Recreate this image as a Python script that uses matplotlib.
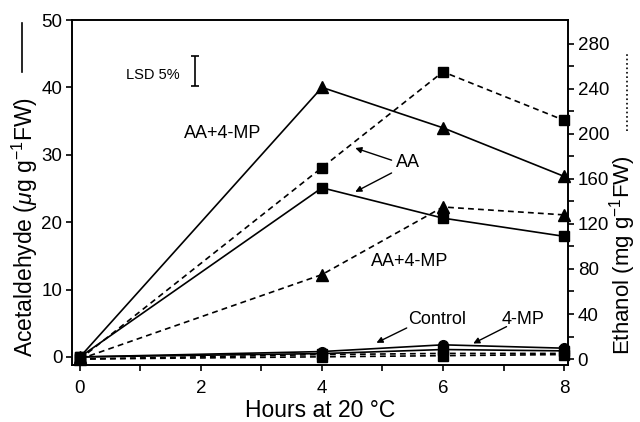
import numpy as np
import matplotlib
matplotlib.use('Agg')
import matplotlib.pyplot as plt
from matplotlib.lines import Line2D

plt.rcParams['font.family'] = ['Liberation Sans', 'DejaVu Sans']
plt.rcParams['mathtext.fontset'] = 'custom'
plt.rcParams['mathtext.rm'] = 'Liberation Sans'
plt.rcParams['mathtext.it'] = 'Liberation Sans:italic'

#------------------------------------------------------------------------------
hours = [0, 4, 6, 8]
# acetaldehyde (ug g-1 FW), solid lines, left axis
acet_aa_4mp = [0, 40.0, 34.0, 26.8]
acet_aa = [0, 25.1, 20.6, 17.9]
acet_control = [0, 0.8, 1.8, 1.3]
acet_4mp = [0, 0.5, 1.1, 0.9]
# ethanol (mg g-1 FW), dashed lines, right axis
eth_aa = [0, 170, 255, 212]
eth_aa_4mp = [0, 75, 135, 128]
eth_control = [0, 4, 5, 5]
eth_4mp = [0, 2, 3, 4]
lsd_x = 1.9
lsd_y = [40.2, 44.6]
#------------------------------------------------------------------------------

fig = plt.figure(figsize=(6.4, 4.22), dpi=100)
ax = fig.add_axes([0.1125, 0.135, 0.775, 0.8176])
ax2 = ax.twinx()

dash = (0, (3.5, 2.5))
kw = dict(c='k', lw=1.2, clip_on=False)
ax.plot(hours, acet_aa_4mp, '-^', ms=9, **kw)
ax.plot(hours, acet_aa, '-s', ms=7, **kw)
ax.plot(hours, acet_control, '-o', ms=7, **kw)
ax.plot(hours, acet_4mp, '-s', ms=7, **kw)
ax2.plot(hours, eth_aa, 's', ls=dash, ms=7, **kw)
ax2.plot(hours, eth_aa_4mp, '^', ls=dash, ms=9, **kw)
ax2.plot(hours, eth_control, 'o', ls=dash, ms=7, **kw)
ax2.plot(hours, eth_4mp, 's', ls=dash, ms=7, **kw)

ax.set_xlim(-0.132, 8.066)
ax.set_ylim(-1.2, 50)
ax2.set_ylim(-5.3, 301)
ax.set_xticks([0, 2, 4, 6, 8])
ax.set_xticks([1, 3, 5, 7], minor=True)
ax.set_yticks([0, 10, 20, 30, 40, 50])
ax2.set_yticks([0, 40, 80, 120, 160, 200, 240, 280])
ax2.set_yticks([20, 60, 100, 140, 180, 220, 260], minor=True)
for a in (ax, ax2):
    a.tick_params(labelsize=13.5, width=1.2, length=4, pad=3)
    a.tick_params(which='minor', width=1.2, length=4)
    for s in a.spines.values():
        s.set_linewidth(1.2)
ax.tick_params(axis='x', pad=7)
ax.set_xlabel('Hours at 20 \u00b0C', fontsize=16.5, labelpad=1)

# axis labels with line-style keys
fig.text(0.039, 0.462, 'Acetaldehyde ($\\mu$g g$^{-1}$FW)', rotation=90,
         fontsize=16.5, ha='center', va='center')
fig.add_artist(Line2D([0.034, 0.034], [0.83, 0.945], c='k', lw=1.2))
fig.text(0.972, 0.396, 'Ethanol (mg g$^{-1}$FW)', rotation=90,
         fontsize=16, ha='center', va='center')
fig.add_artist(Line2D([0.98, 0.98], [0.69, 0.877], c='k', lw=1.2, ls=':'))

# LSD bar
ax.errorbar(lsd_x, np.mean(lsd_y), yerr=(lsd_y[1] - lsd_y[0]) / 2, fmt='none',
            ecolor='k', elinewidth=1.2, capsize=3.2, capthick=1.2)
ax.text(1.2, 41.8, 'LSD 5%', fontsize=10.5, ha='center', va='center')

ax.text(2.35, 33.2, 'AA+4-MP', fontsize=13, ha='center', va='center')
ax.text(5.42, 28.8, 'AA', fontsize=13, ha='center', va='center')
arr = dict(arrowstyle='-|>', color='k', lw=1, mutation_scale=9,
           shrinkA=0, shrinkB=0)
ax.annotate('', xy=(4.55, 31.0), xytext=(5.15, 29.2), arrowprops=arr)
ax.annotate('', xy=(4.55, 24.5), xytext=(5.15, 27.3), arrowprops=arr)
ax.text(5.45, 14.1, 'AA+4-MP', fontsize=13, ha='center', va='center')
ax.text(5.9, 5.5, 'Control', fontsize=13, ha='center', va='center')
ax.annotate('', xy=(4.9, 2.1), xytext=(5.4, 4.3), arrowprops=arr)
ax.text(7.32, 5.5, '4-MP', fontsize=13, ha='center', va='center')
ax.annotate('', xy=(6.5, 2.0), xytext=(7.05, 4.5), arrowprops=arr)

plt.savefig('out.png', dpi=100)
